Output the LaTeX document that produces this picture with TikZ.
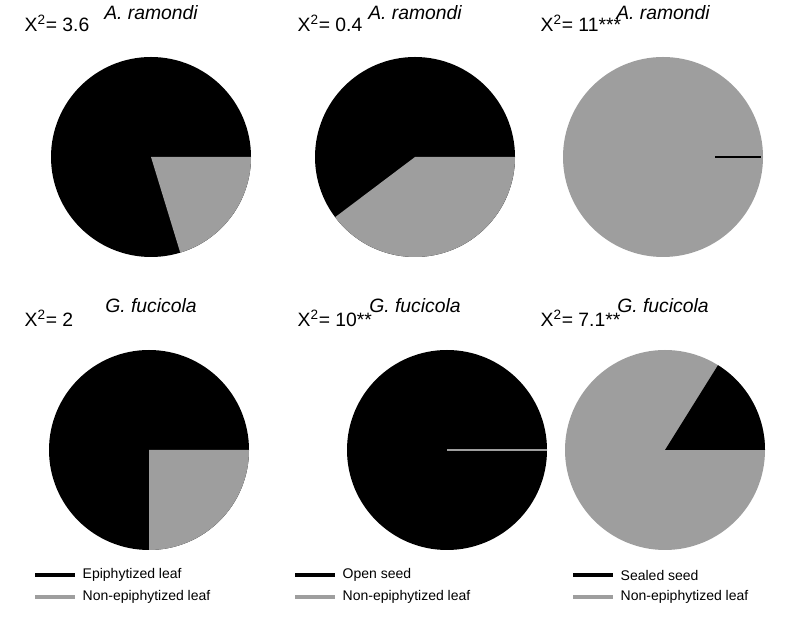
\documentclass[tikz,border=0pt]{standalone}
\usepackage{fontspec}
\setmainfont{Liberation Sans}
\usetikzlibrary{calc}
\definecolor{piegray}{RGB}{158,158,158}
\tikzset{
  title/.style={font=\fontsize{14.5}{16}\selectfont\itshape},
  chi/.style={anchor=west,font=\fontsize{14.5}{16}\selectfont},
  legtext/.style={anchor=west,font=\fontsize{10.5}{12}\selectfont},
  legline/.style={line width=3pt}
}
\begin{document}
\begin{tikzpicture}[x=0.75pt,y=0.75pt]
  \useasboundingbox (0,0) rectangle (796,642);
  % pie centres
  \coordinate (p1) at (151,485);
  \coordinate (p2) at (415,485);
  \coordinate (p3) at (663,485);
  \coordinate (p4) at (149,192);
  \coordinate (p5) at (447,192);
  \coordinate (p6) at (665,192);

  % top row
  \fill[black] (p1) circle[radius=100];
  \fill[piegray] (p1) -- +(-73:100) arc[start angle=-73, end angle=0, radius=100] -- cycle;
  \fill[black] (p2) circle[radius=100];
  \fill[piegray] (p2) -- +(217:100) arc[start angle=217, end angle=360, radius=100] -- cycle;
  \fill[piegray] (p3) circle[radius=100];
  \draw[black, line width=0.8pt] ($(p3)+(52,0)$) -- ($(p3)+(98,0)$);

  % bottom row
  \fill[black] (p4) circle[radius=100];
  \fill[piegray] (p4) -- +(270:100) arc[start angle=270, end angle=360, radius=100] -- cycle;
  \fill[black] (p5) circle[radius=100];
  \draw[piegray, line width=0.8pt] (p5) -- +(100,0);
  \fill[piegray] (p6) circle[radius=100];
  \fill[black] (p6) -- +(0:100) arc[start angle=0, end angle=58, radius=100] -- cycle;

  % titles
  \node[title] (t1) at (151,629) {A. ramondi};
  \node[title] (t2) at (415,629) {A. ramondi};
  \node[title] (t3) at (663,629) {A. ramondi};
  \node[title] (t4) at (151,336) {G. fucicola};
  \node[title] (t5) at (415,336) {G. fucicola};
  \node[title] (t6) at (663,336) {G. fucicola};

  % statistics
  \node[chi] (c1) at (20,619) {X\textsuperscript{2}= 3.6};
  \node[chi] (c2) at (293,619) {X\textsuperscript{2}= 0.4};
  \node[chi] (c3) at (536,619) {X\textsuperscript{2}= 11***};
  \node[chi] (c4) at (20,324) {X\textsuperscript{2}= 2};
  \node[chi] (c5) at (293,324) {X\textsuperscript{2}= 10**};
  \node[chi] (c6) at (536,324) {X\textsuperscript{2}= 7.1**};

  % legends
  \foreach \lx/\la/\lb [count=\i] in {35/Epiphytized leaf/Non-epiphytized leaf,
                                     295/Open seed/Non-epiphytized leaf,
                                     573/Sealed seed/Non-epiphytized leaf}{
    \draw[legline, black] (\lx,67) -- ++(40,0);
    \draw[legline, piegray] (\lx,45) -- ++(40,0);
    \node[legtext] (la\i) at (\lx+43,67) {\la};
    \node[legtext] (lb\i) at (\lx+43,45) {\lb};
  }
\end{tikzpicture}
\end{document}
